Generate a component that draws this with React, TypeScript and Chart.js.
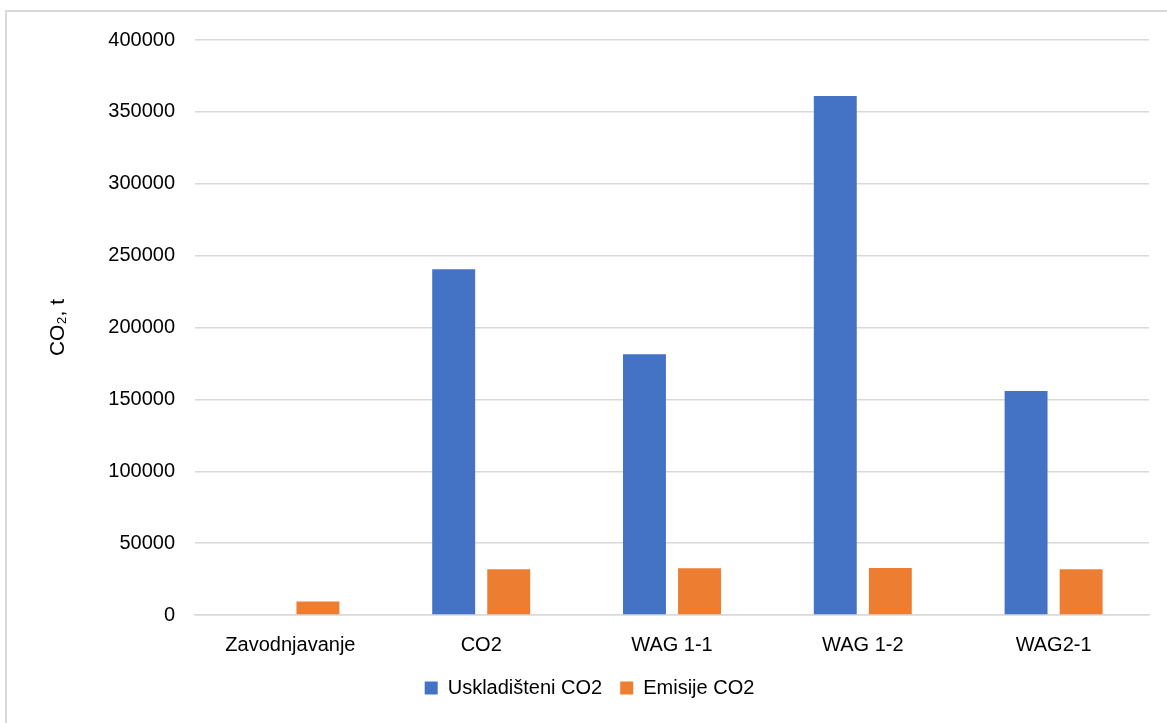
import React, { useEffect, useRef } from "react";
import { Chart, registerables } from "chart.js";

Chart.register(...registerables);

const categories = ["Zavodnjavanje", "CO2", "WAG 1-1", "WAG 1-2", "WAG2-1"];
const storedCO2 = [0, 240600, 181400, 361100, 155800];
const emittedCO2 = [9400, 31800, 32500, 32700, 31800];
const seriesNames = ["Uskladišteni CO2", "Emisije CO2"];
const yTicks = [0, 50000, 100000, 150000, 200000, 250000, 300000, 350000, 400000];
const yTitle = "CO₂, t";

const FONT = "'Liberation Sans', Arial, sans-serif";
const TEXT = "#000";

export default function App() {
  const canvasRef = useRef<HTMLCanvasElement | null>(null);

  useEffect(() => {
    const canvas = canvasRef.current;
    if (!canvas) return;
    const chart = new Chart(canvas, {
      type: "bar",
      data: {
        labels: categories,
        datasets: [
          {
            label: seriesNames[0],
            data: storedCO2,
            backgroundColor: "#4472C4",
            categoryPercentage: 0.577,
            barPercentage: 0.78,
          },
          {
            label: seriesNames[1],
            data: emittedCO2,
            backgroundColor: "#ED7D31",
            categoryPercentage: 0.577,
            barPercentage: 0.78,
          },
        ],
      },
      options: {
        responsive: false,
        animation: false,
        layout: { padding: { left: 30, top: 40, right: 18, bottom: 15 } },
        font: { family: FONT, size: 20 },
        plugins: {
          tooltip: { enabled: false },
          legend: {
            position: "bottom",
            labels: {
              color: TEXT,
              font: { family: FONT, size: 20 },
              boxWidth: 13,
              boxHeight: 13,
              padding: 18,
            },
          },
        },
        scales: {
          x: {
            grid: { display: false, drawTicks: false },
            border: { display: true, color: "#d9d9d9", width: 1.5 },
            ticks: {
              color: TEXT,
              font: { family: FONT, size: 20 },
              padding: 18,
              maxRotation: 0,
            },
            afterFit: (scale: any) => {
              scale.height = 45;
            },
          },
          y: {
            min: 0,
            max: 400000,
            grid: { color: "#d9d9d9", lineWidth: 1.5, drawTicks: false },
            border: { display: false },
            afterBuildTicks: (scale: any) => {
              scale.ticks = yTicks.map((v) => ({ value: v }));
            },
            ticks: {
              color: TEXT,
              font: { family: FONT, size: 20 },
              padding: 20,
              callback: (v: any) => String(v),
            },
            title: {
              display: true,
              text: yTitle,
              color: TEXT,
              font: { family: FONT, size: 21 },
              padding: { top: 16, bottom: 0 },
            },
            afterFit: (scale: any) => {
              scale.width = 165;
            },
          },
        },
      },
    });
    return () => chart.destroy();
  }, []);

  return (
    <div
      style={{
        position: "fixed",
        left: 0,
        top: 0,
        width: 1167,
        height: 723,
        overflow: "hidden",
        background: "#fff",
      }}
    >
      <div
        style={{
          position: "absolute",
          left: 5,
          top: 10,
          width: 1300,
          height: 900,
          border: "2px solid #d9d9d9",
        }}
      />
      <canvas
        ref={canvasRef}
        width={1167}
        height={723}
        style={{ position: "absolute", left: 0, top: 0 }}
      />
    </div>
  );
}
